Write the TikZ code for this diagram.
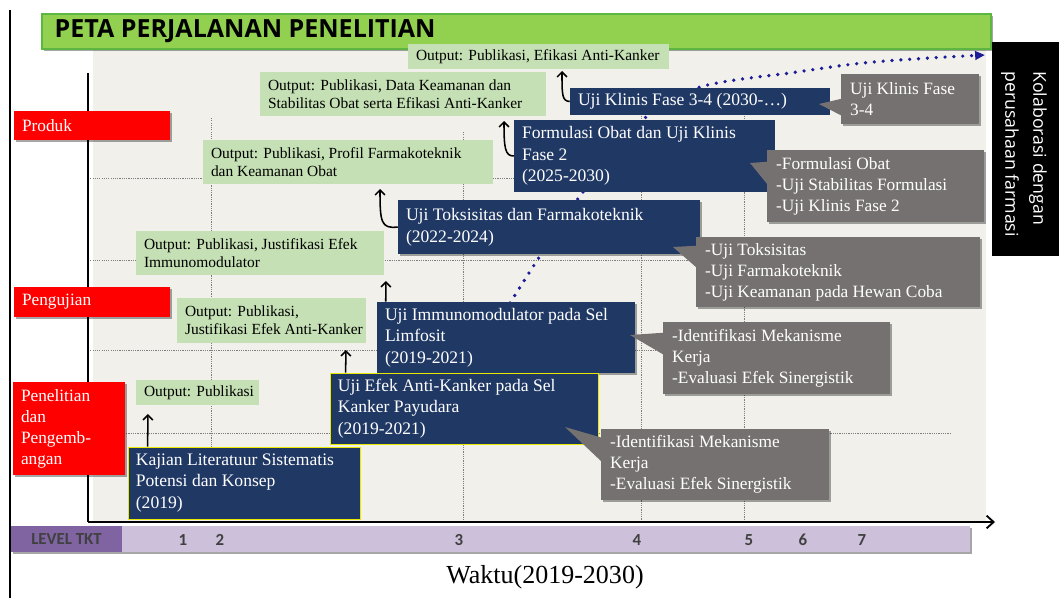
\documentclass[tikz,border=0pt]{standalone}
\usepackage{fontspec}
\setmainfont{Liberation Serif}
\newfontfamily\osans{Open Sans}
\newfontfamily\carl{Carlito}
\usetikzlibrary{arrows.meta,shadows,fit,calc}
\definecolor{gout}{HTML}{C5E0B4}
\definecolor{navy}{HTML}{203864}
\definecolor{gcall}{HTML}{767171}
\definecolor{titleg}{HTML}{92D050}
\definecolor{titlegb}{HTML}{5DB542}
\definecolor{bgc}{HTML}{F1F0EB}
\definecolor{tktd}{HTML}{8064A2}
\definecolor{tktl}{HTML}{CCC0DA}
\definecolor{dotc}{HTML}{1C1C96}
\definecolor{gridc}{HTML}{7F7F7F}
\definecolor{ybord}{HTML}{E8E800}
\definecolor{numc}{HTML}{404040}
\newcommand\tbox[7]{%
  \node[#1, fit={(#3,#4) (#5,#6)}, inner sep=0pt] (#2) {};
  \node[#1txt, anchor=west, align=left] (#2t) at (#2.west) {#7};}
\begin{document}
\begin{tikzpicture}[x=0.025cm,y=-0.025cm,
  shad/.style={drop shadow={shadow xshift=0.06cm,shadow yshift=-0.06cm,opacity=0.35,fill=black}},
  gbox/.style={fill=gout},
  gboxtxt/.style={inner sep=0pt, xshift=0.2cm, font=\fontsize{11}{12.8}\selectfont, text=black},
  bbox/.style={fill=navy},
  bboxtxt/.style={inner sep=0pt, xshift=0.2cm, font=\fontsize{12.5}{15.4}\selectfont, text=white},
  ybox/.style={fill=navy, draw=ybord, line width=0.6pt},
  yboxtxt/.style={bboxtxt},
  sbox/.style={fill=navy, shad},
  sboxtxt/.style={bboxtxt},
  cbox/.style={fill=gcall, shad},
  cboxtxt/.style={inner sep=0pt, xshift=0.23cm, font=\fontsize{12.3}{14.9}\selectfont, text=white},
  rbox/.style={fill=red, shad},
  rboxtxt/.style={inner sep=0pt, xshift=0.2cm, font=\fontsize{12.3}{14.9}\selectfont, text=white},
  titlebox/.style={fill=titleg, draw=titlegb, line width=0.8pt, shad},
  titleboxtxt/.style={inner sep=0pt, xshift=0.325cm, font=\osans\bfseries\fontsize{17.8}{20}\selectfont, text=black},
  grid/.style={gridc, line width=0.7pt, dash pattern=on 0.8pt off 0.8pt},
  arr/.style={black, line width=1.1pt, -{Straight Barb[length=3.5pt,width=7pt]}},
  dotpath/.style={dotc, line width=2.6pt, dash pattern=on 0pt off 6.3pt, line cap=round},
  num/.style={font=\carl\bfseries\fontsize{12}{14}\selectfont, text=numc, inner sep=0pt}
]
\useasboundingbox (0,0) rectangle (1059,598);
\fill[white] (0,0) rectangle (1059,598);
% frame line
\draw[black, line width=1.1pt] (10,10) -- (10,598);
% chart background
\fill[bgc] (93,50) rectangle (986,521);
% grid
\draw[grid] (211,118) -- (211,522);
\draw[grid] (463,132) -- (463,522);
\draw[grid] (641,100) -- (641,522);
\draw[grid] (744,116) -- (744,522);
\draw[grid] (88,178) -- (700,178);
\draw[grid] (88,260) -- (700,260);
\draw[grid] (88,350) -- (885,350);
\draw[grid] (88,433) -- (950,433);
% axes
\coordinate (yax0) at (88,522);
\coordinate (yax1) at (88,73);
\coordinate (xax1) at (995,522);
\draw[black, line width=1.3pt] (yax0) -- (yax1);
\draw[black, line width=1.3pt, -{Straight Barb[length=5pt,width=9pt]}] (yax0) -- (xax1);
% title
\tbox{titlebox}{title}{42}{14}{991}{49}{PETA PERJALANAN PENELITIAN}
% black side box
\node[fill=black, fit={(992,42) (1059,256)}, inner sep=0pt] (kol) {};
\node[rotate=-90, anchor=west, align=left, text=white, inner sep=0pt,
      font=\osans\fontsize{12.6}{20}\selectfont] (kolt) at (1024,71) {Kolaborasi dengan\\perusahaan farmasi};
% dotted path
\draw[dotpath, -{Triangle[length=7pt,width=6pt]}] plot[smooth, tension=0.55] coordinates
  {(510,303) (540,256) (580,196) (645,118) (700,87) (797,72) (863,63) (930,58) (985,55)};
% bottom bar
\node[fill=tktd, fit={(11,526) (122,552)}, inner sep=0pt, shad] (lvl) {};
\node[fill=tktl, fit={(122,526) (970,552)}, inner sep=0pt, shad] (lvlbar) {};
\node[num] (lvlt) at (lvl.center) {LEVEL TKT};
\node[num] (n1) at (183,540) {1};
\node[num] (n2) at (220,540) {2};
\node[num] (n3) at (459,540) {3};
\node[num] (n4) at (637,540) {4};
\node[num] (n5) at (749,540) {5};
\node[num] (n6) at (803,540) {6};
\node[num] (n7) at (862,540) {7};
\node[font=\fontsize{18.5}{22}\selectfont, inner sep=0pt] (waktu) at (545,577) {Waktu(2019-2030)};
% red labels
\tbox{rbox}{produk}{14}{111}{170}{140}{Produk}
\tbox{rbox}{uji}{14}{287}{170}{317}{Pengujian}
\tbox{rbox}{litbang}{13}{382}{125}{475}{Penelitian\\dan\\Pengemb-\\angan}
% green outputs
\tbox{gbox}{out1}{408}{44}{669}{69}{Output: Publikasi, Efikasi Anti-Kanker}
\tbox{gbox}{out2}{260}{72}{546}{116}{Output: Publikasi, Data Keamanan dan\\Stabilitas Obat serta Efikasi Anti-Kanker}
\tbox{gbox}{out3}{203}{140}{493}{184}{Output: Publikasi, Profil Farmakoteknik\\dan Keamanan Obat}
\tbox{gbox}{out4}{136}{231}{384}{275}{Output: Publikasi, Justifikasi Efek\\Immunomodulator}
\tbox{gbox}{out5}{177}{298}{366}{343}{Output: Publikasi,\\Justifikasi Efek Anti-Kanker}
\tbox{gbox}{out6}{136}{380}{259}{405}{Output: Publikasi}
% blue boxes
\tbox{ybox}{A}{128}{447}{360}{519}{Kajian Literatuur Sistematis\\Potensi dan Konsep\\(2019)}
\tbox{sbox}{C}{377}{302}{635}{373}{Uji Immunomodulator pada Sel\\Limfosit\\(2019-2021)}
\tbox{ybox}{B}{330}{373}{598}{444}{Uji Efek Anti-Kanker pada Sel\\Kanker Payudara\\(2019-2021)}
\tbox{sbox}{D}{398}{200}{700}{254}{Uji Toksisitas dan Farmakoteknik\\(2022-2024)}
\tbox{bbox}{E}{514}{120}{775}{192}{Formulasi Obat dan Uji Klinis\\Fase 2\\(2025-2030)}
\tbox{bbox}{F}{570}{88}{830}{115}{Uji Klinis Fase 3-4 (2030-…)}
% arrows to outputs
\coordinate (a6) at (148,414);
\coordinate (a5) at (346,350);
\coordinate (a4) at (386,281);
\coordinate (a3) at (380,189);
\coordinate (a2) at (504,121);
\coordinate (a1) at (562,71);
\draw[arr] ($(A.north west)+(20,0)$) -- (a6);
\draw[arr] ($(B.north west)+(16,0)$) -- (a5);
\draw[arr] ($(C.north west)+(9,0)$) -- (a4);
\draw[arr] (D.west) .. controls (381,229) and (380,222) .. (a3);
\draw[arr] (E.west) .. controls (505,156) and (504,148) .. (a2);
\draw[arr] (F.west) .. controls (562,101) and (562,95) .. (a1);
% gray callouts
\coordinate (t1) at (819,104);
\coordinate (t2) at (750,163);
\coordinate (t3) at (673,247);
\coordinate (t4) at (630,335);
\coordinate (t5) at (565,427);
\tbox{cbox}{g1}{841}{74}{979}{124}{Uji Klinis Fase\\3-4}
\tbox{cbox}{g2}{767}{150}{984}{222}{-Formulasi Obat\\-Uji Stabilitas Formulasi\\-Uji Klinis Fase 2}
\tbox{cbox}{g3}{696}{237}{980}{307}{-Uji Toksisitas\\-Uji Farmakoteknik\\-Uji Keamanan pada Hewan Coba}
\tbox{cbox}{g4}{663}{322}{890}{394}{-Identifikasi Mekanisme\\Kerja\\-Evaluasi Efek Sinergistik}
\tbox{cbox}{g5}{601}{429}{829}{500}{-Identifikasi Mekanisme\\Kerja\\-Evaluasi Efek Sinergistik}
\fill[gcall] ($(g1.north west)+(1,25)$) -- (t1) -- ($(g1.north west)+(1,42)$) -- cycle;
\fill[gcall] ($(g2.north west)+(1,12)$) -- (t2) -- ($(g2.north west)+(1,35)$) -- cycle;
\fill[gcall] ($(g3.north west)+(1,9)$) -- (t3) -- ($(g3.north west)+(1,31)$) -- cycle;
\fill[gcall] ($(g4.north west)+(1,11)$) -- (t4) -- ($(g4.north west)+(1,33)$) -- cycle;
\fill[gcall] ($(g5.north west)+(1,9)$) -- (t5) -- ($(g5.north west)+(1,33)$) -- cycle;
\end{tikzpicture}
\end{document}
